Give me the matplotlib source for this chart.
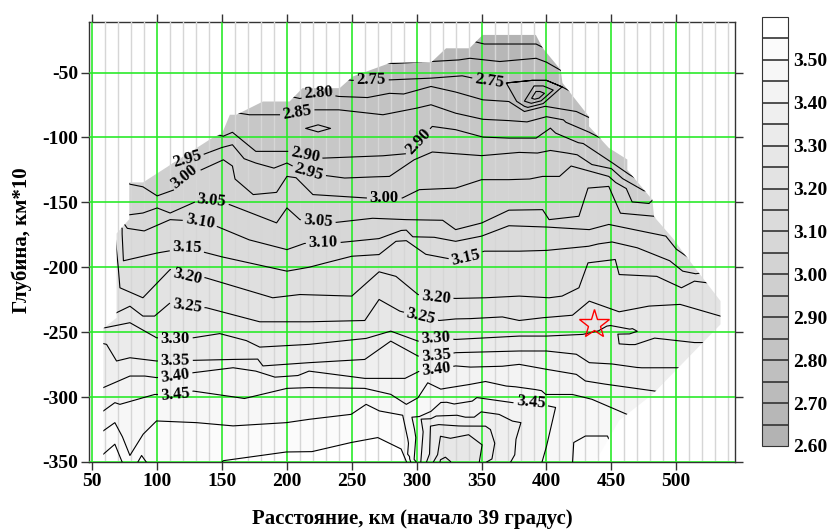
"""Depth section: filled contours of velocity along the profile (start at 39 deg)."""

import matplotlib
import numpy as np

matplotlib.use("Agg")
import matplotlib.pyplot as plt  # noqa: E402
import matplotlib.tri as mtri  # noqa: E402
from matplotlib.colors import ListedColormap  # noqa: E402
from matplotlib.patches import Polygon  # noqa: E402
from matplotlib.ticker import MultipleLocator  # noqa: E402

plt.rcParams["font.family"] = ["Liberation Serif", "DejaVu Serif"]
plt.rcParams["font.weight"] = "bold"
plt.rcParams["axes.unicode_minus"] = False

# isolines: distance (km) and depth (km*10) per level
iso_265_x = [330, 352, 372, 392, 400, 405]
iso_265_d = [-28, -28, -28, -28, -32, -35]
iso_270_x = [270, 282, 311, 341, 364, 392, 400, 414]
iso_270_d = [-42, -43, -41.5, -39, -41.5, -39, -42, -50]
iso_275_x = [230, 250, 280, 311, 335, 356, 369, 389, 400, 412, 425]
iso_275_d = [-53, -56, -55.6, -54.3, -52.5, -57, -58, -56, -56, -61, -68]
iso_280_x = [192, 210, 240, 279, 311, 330, 351, 371, 383, 399, 423, 440]
iso_280_d = [-66, -70, -68.4, -66, -60.7, -65, -71, -72.3, -80, -76, -80, -88]
iso_285_x = [155, 171, 190, 198, 220, 240, 274, 289, 300, 311, 330, 351, 371, 385, 400, 433, 460]
iso_285_d = [-80, -82.5, -92.8, -82.5, -78.7, -78.7, -82.5, -92.8, -77.4, -74.8, -81.3, -86, -87, -88, -84,
             -96, -110]
iso_290_x = [138, 151, 158, 176, 190, 202, 214, 228, 274, 292, 302, 312, 330, 351, 371, 392, 403, 407, 451,
             464, 475]
iso_290_d = [-96, -99, -96, -110.7, -110.7, -110.7, -113.3, -115.9, -114.1, -112.5, -102, -91.5, -94, -99.7,
             -100.5, -100.5, -92.8, -96.6, -119.7, -128.7, -135]
iso_295_x = [108, 123, 135, 150, 158, 176, 190, 200, 212, 225, 279, 298, 312, 350, 379, 393, 403, 416, 450,
             475, 488]
iso_295_d = [-121, -116.6, -113.3, -107.7, -105.6, -119.7, -123.6, -119.7, -126, -128.7, -130, -117.2, -111.2,
             -114, -111.5, -112, -110, -112, -124, -141, -150]
iso_300_x = [74, 79, 89, 100, 110, 114, 121, 133, 151, 158, 160, 174, 192, 200, 207, 220, 261, 289, 302, 330,
             350, 371, 387, 397, 403, 410, 419, 448, 482, 492]
iso_300_d = [-133, -136, -138, -145, -149, -140, -130, -125.4, -117.2, -122, -132, -144, -142.3, -130, -131,
             -144, -146.6, -146.6, -140.2, -139, -132.5, -132.5, -132, -130, -146.6, -130, -122, -130, -148, -155]
iso_305_x = [74, 79, 89, 100, 110, 133, 143, 156, 192, 200, 210, 238, 292, 320, 330, 350, 371, 397, 402, 425,
             432, 448, 483, 495]
iso_305_d = [-160, -159.5, -158.2, -154.3, -158.2, -148, -149, -151.8, -165.8, -154.3, -163.3, -165.4, -163.3,
             -163.8, -171, -165.9, -156, -155.6, -163.3, -160.7, -139, -137.7, -160.7, -168]
iso_310_x = [77, 79, 90, 110, 133, 146, 200, 238, 271, 297, 330, 350, 371, 400, 433, 448, 492, 500, 510]
iso_310_d = [-170, -178.7, -172, -163.3, -164.6, -168.5, -186.4, -181.2, -177.9, -176.5, -180, -176, -168,
             -169, -171, -167, -176, -186, -193]
iso_315_x = [73, 74, 76, 80, 100, 123, 150, 200, 217, 230, 250, 271, 284, 292, 307, 323, 328, 338, 352, 379,
             392, 400, 440, 470, 495, 505, 515]
iso_315_d = [-170, -195, -207, -208, -189, -185, -192, -203, -200, -196.6, -191.5, -190.2, -180, -179.5, -190,
             -204.3, -194, -192.7, -187.6, -187.6, -194, -187, -182, -185, -195, -203, -205]
iso_320_x = [67, 70, 71.3, 89, 110, 123, 137, 189, 210, 250, 271, 284, 301, 315, 330, 353, 379, 402, 412, 425,
             432, 453, 456, 485, 514, 540]
iso_320_d = [-170, -200, -215.8, -223.5, -201.7, -207, -208, -223.5, -221, -222.2, -203.5, -207, -221, -223.5,
             -224, -223.5, -222.2, -223.5, -222.2, -215.8, -196.6, -194, -205.6, -207, -210.7, -214]
iso_325_x = [62, 68.7, 79, 89, 98, 110, 123, 138, 179, 217, 260, 271, 287, 303, 317.5, 379, 397, 433, 439, 456,
             479, 503, 534, 542]
iso_325_d = [-238, -235, -230, -237.6, -237.6, -227.4, -230, -231.2, -242, -242, -241, -224.8, -233.8, -238,
             -241, -241, -238.9, -226.1, -236.9, -234.3, -229.9, -228.6, -237.6, -240]
iso_330_x = [55, 59.7, 67.4, 79, 99.5, 114, 128, 179, 217, 261, 280, 301, 330, 379, 400, 428, 440, 456, 514, 527]
iso_330_d = [-246, -246.6, -256.9, -242.7, -254.3, -255.6, -254.3, -261.5, -259.4, -254.8, -249.2, -256.9,
             -255.6, -253, -253, -251.7, -249, -259, -258, -258]
iso_335_x = [55, 61, 68.7, 79, 99.5, 114, 128, 158.5, 181.5, 217, 260, 280, 301, 315, 330, 379, 400, 423, 433,
             500, 512]
iso_335_d = [-258, -259.4, -272.2, -269.7, -272.2, -272.2, -271.7, -271, -276, -273.5, -271, -256.9, -268.4,
             -268.4, -265.8, -264.5, -264.5, -267, -273.5, -277.4, -278]
iso_340_x = [55, 58.5, 79, 90.5, 99.5, 114, 128, 158.5, 176, 217, 260, 291, 315, 330, 379, 400, 423, 430, 445,
             483, 494]
iso_340_d = [-294, -292.7, -283.8, -283.8, -285, -283.8, -281.2, -277.4, -280, -280, -285.6, -285.6, -278.6,
             -276, -274.8, -278.6, -282.5, -287.6, -290, -295.3, -297]
iso_345_x = [55, 58.5, 67.4, 71.3, 79, 98, 114, 128, 200, 217, 260, 280, 292, 301, 308.5, 353, 369, 399.5, 420,
             435, 462, 474]
iso_345_d = [-311, -310.7, -304.3, -305.6, -324.8, -298, -298, -295.4, -293.3, -292.7, -293.3, -297.9, -305.6,
             -300.5, -289, -288, -291.5, -298, -298, -301.7, -313.3, -319]
iso_350_x = [55, 58.5, 67.4, 79, 89.2, 99.5, 109.7, 118.7, 122.6, 130.3, 158.5, 199.5, 217.4, 249.5, 261,
             271.3, 289.2, 296]
iso_350_d = [-327, -326, -319.7, -345, -328.6, -318.4, -330, -338.9, -328.6, -319.7, -322.2, -319.7, -317.1,
             -313.3, -305.6, -310.7, -314, -352]
iso_355_x = [55, 58.5, 67.4, 73.8]
iso_355_d = [-345, -344, -336.3, -352]

# second branches and closed pieces near the base of the section
iso_355b_x = [84, 88, 93]
iso_355b_d = [-352, -345, -352]
iso_355c_x = [148, 151, 199.5, 249.5, 270, 288, 293]
iso_355c_d = [-352, -349, -342.3, -335, -331.2, -340, -352]
iso_345b_x = [301, 302, 311, 374, 388, 402, 407, 400, 396]
iso_345b_d = [-352, -315, -311, -304.3, -304, -302.5, -308, -338, -352]
iso_350b_x = [420, 421, 430, 447, 452, 454]
iso_350b_d = [-352, -335, -330, -330, -342, -352]
iso_340b_x = [303, 303.4, 315, 373.8, 380.3, 371.3]
iso_340b_d = [-352, -317, -314.6, -318.5, -319.7, -352]
iso_335b_x = [306.8, 310.6, 317, 353, 356.8, 350.4]
iso_335b_d = [-352, -322.4, -321.2, -322.4, -325, -352]
iso_330b_x = [311.5, 318.3, 340, 350.4, 347.9]
iso_330b_d = [-352, -330.2, -329, -336.8, -352]
iso_325b_x = [317.5, 318.3, 322.1, 326, 327]
iso_325b_d = [-352, -348.3, -346.3, -349.6, -352]

# spot values: top edge, base of section, local extrema and thin bands
top_x = [345, 370, 395]
top_d = [-18, -18, -18]
top_v = [2.62, 2.62, 2.62]
bottom_x = [50, 79, 88.5, 120, 220, 280, 294.5, 298.5, 302, 304.8, 309, 314, 322, 337, 349, 361, 384, 410, 437,
            462]
bottom_d = [-352] * 20
bottom_v = [3.57, 3.51, 3.56, 3.515, 3.57, 3.57, 3.52, 3.47, 3.43, 3.38, 3.33, 3.28, 3.23, 3.27, 3.32, 3.37,
            3.42, 3.47, 3.52, 3.48]
extra_x = [393, 383, 224, 208, 240, 224, 224, 448, 465, 480, 462,
           305, 320, 345, 375, 395, 415, 430,
           340, 335, 330, 322, 388, 365]
extra_d = [-68, -72, -93, -93, -93, -88, -98, -247, -249, -250, -256,
           -305, -300, -296, -299, -300, -312, -315,
           -312, -319, -325.5, -338, -330, -335]
extra_v = [2.61, 2.70, 2.93, 2.88, 2.88, 2.875, 2.875, 3.31, 3.305, 3.29, 3.29,
           3.47, 3.47, 3.47, 3.47, 3.465, 3.48, 3.48,
           3.425, 3.375, 3.325, 3.275, 3.425, 3.375]

# outline of the covered part of the section
region_x = [58.5, 58.5, 68.7, 68.7, 78.5, 78.5, 89.2, 143, 150, 156, 161, 181.5, 202, 212, 240.6, 250.8, 280.3,
            311, 322.6, 340.6, 350.8, 391.8, 397, 411, 412.3, 432.8, 432.8, 448, 462.3, 462.3, 481.6, 482.9,
            498.2, 504.6, 534.1, 534.1, 481.6, 456, 437]
region_d = [-351, -247, -239, -174, -163, -134.6, -134.6, -100, -97, -82.5, -82.5, -72.3, -72.3, -62, -62, -53,
            -42.3, -42.3, -31.3, -31.3, -21, -21, -31, -48, -58, -84, -91.5, -108, -117, -125, -148, -161,
            -178.7, -187.6, -226, -244, -298, -318, -351]

label_x = [265, 356, 225, 208, 214, 302, 123, 217, 121, 275, 142, 224, 133, 228, 123, 338, 123, 315, 123, 303,
           114, 315, 114, 315, 114, 315, 114, 388]
label_d = [-57, -57, -69, -81, -114, -104, -117, -126, -130, -147, -149, -166, -165, -183, -185, -193, -207, -223,
           -230, -239, -256, -256, -272, -268, -284, -279, -298, -304]

star_x = [437]
star_d = [-244]

fill_levels = np.round(np.arange(2.60, 3.6001, 0.05), 2)
line_levels = np.round(np.arange(2.65, 3.5501, 0.05), 2)
cbar_ticks = np.round(np.arange(2.60, 3.5001, 0.10), 2)

isolines = [
    (2.65, iso_265_x, iso_265_d), (2.70, iso_270_x, iso_270_d), (2.75, iso_275_x, iso_275_d),
    (2.80, iso_280_x, iso_280_d), (2.85, iso_285_x, iso_285_d), (2.90, iso_290_x, iso_290_d),
    (2.95, iso_295_x, iso_295_d), (3.00, iso_300_x, iso_300_d), (3.05, iso_305_x, iso_305_d),
    (3.10, iso_310_x, iso_310_d), (3.15, iso_315_x, iso_315_d), (3.20, iso_320_x, iso_320_d),
    (3.25, iso_325_x, iso_325_d), (3.30, iso_330_x, iso_330_d), (3.35, iso_335_x, iso_335_d),
    (3.40, iso_340_x, iso_340_d), (3.45, iso_345_x, iso_345_d), (3.50, iso_350_x, iso_350_d),
    (3.55, iso_355_x, iso_355_d), (3.55, iso_355b_x, iso_355b_d), (3.55, iso_355c_x, iso_355c_d),
    (3.45, iso_345b_x, iso_345b_d), (3.50, iso_350b_x, iso_350b_d), (3.40, iso_340b_x, iso_340b_d),
    (3.35, iso_335b_x, iso_335b_d), (3.30, iso_330b_x, iso_330b_d), (3.25, iso_325b_x, iso_325b_d),
]

px, pd_, pv = [], [], []
for lev, xs, ds in isolines:
    px += list(xs)
    pd_ += list(ds)
    pv += [lev] * len(xs)
for xs, ds, vs in [(top_x, top_d, top_v), (bottom_x, bottom_d, bottom_v), (extra_x, extra_d, extra_v)]:
    px += list(xs)
    pd_ += list(ds)
    pv += list(vs)
px, pd_, pv = np.array(px, float), np.array(pd_, float), np.array(pv, float)

grays = [str(0.70 + 0.30 * i / 19) for i in range(20)]
cmap = ListedColormap(grays)

fig = plt.figure(figsize=(8.33, 5.29), dpi=100)
ax = fig.add_axes([0.1072, 0.1267, 0.7752, 0.8323])

tri = mtri.Triangulation(px, pd_)
cf = ax.tricontourf(tri, pv, levels=fill_levels, cmap=cmap, zorder=1)
cs = ax.tricontour(tri, pv, levels=line_levels, colors="black", linewidths=0.8, zorder=3)

region = Polygon(np.column_stack([region_x, region_d]), closed=True, facecolor="none", edgecolor="none")
ax.add_patch(region)
cf.set_clip_path(region)
cs.set_clip_path(region)

# all levels passed so the manual pick indexes the right level
cs.clabel(line_levels, manual=list(zip(label_x, label_d)), inline=True, inline_spacing=3,
          fmt="%.2f", fontsize=12, zorder=5)

ax.plot(star_x, star_d, marker="*", ms=22, mfc="none", mec="red", mew=1.0, ls="none", zorder=6)

ax.set_xlim(47.7, 545.3)
ax.set_ylim(-350, -10.8)
ax.set_xticks(np.arange(50, 501, 50))
ax.set_yticks(np.arange(-350, -49, 50))
ax.xaxis.set_minor_locator(MultipleLocator(10))
ax.set_axisbelow(False)
ax.grid(which="minor", axis="x", color="#d6d6d6", lw=1.0)
ax.grid(which="major", color="#2bea2b", lw=1.2)
ax.tick_params(which="minor", length=0)
ax.tick_params(which="major", direction="out", length=6, width=1, color="#333333",
               top=True, right=True, labelsize=14, pad=2)
for sp in ax.spines.values():
    sp.set_edgecolor("#333333")
    sp.set_linewidth(1.0)

cax = fig.add_axes([0.9148, 0.1569, 0.0312, 0.811])
cb = fig.colorbar(cf, cax=cax, drawedges=True, ticks=cbar_ticks)
cb.ax.set_yticklabels([f"{t:.2f}" for t in cbar_ticks])
cb.ax.tick_params(length=0, labelsize=14, pad=4)
cb.dividers.set_color("#333333")
cb.dividers.set_linewidth(1.2)
cb.outline.set_edgecolor("#333333")

fig.text(0.495, 0.019, "Расстояние, км (начало 39 градус)", ha="center", va="center", fontsize=15)
fig.text(0.0264, 0.546, "Глубина, км*10", ha="center", va="center", rotation=90, fontsize=15)

fig.savefig("out.png", dpi=100)
